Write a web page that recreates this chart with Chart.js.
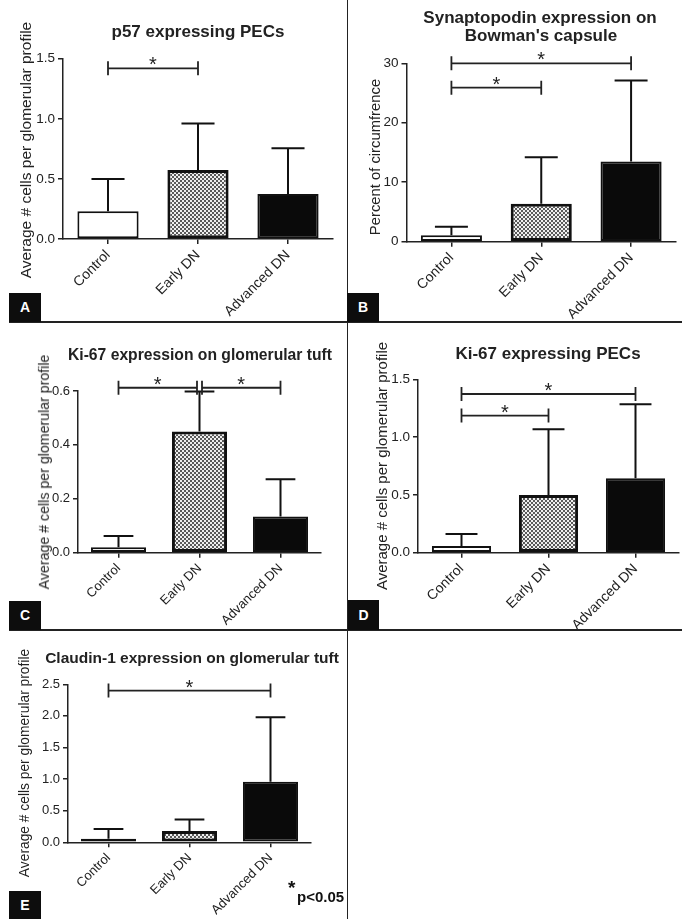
<!DOCTYPE html>
<html>
<head>
<meta charset="utf-8">
<script src="https://cdn.jsdelivr.net/npm/chart.js@4.4.1/dist/chart.umd.min.js"></script>
<style>
  body { margin: 0; background: #fff; font-family: "Liberation Sans", Arial, sans-serif; color: #222; }
  #fig { position: relative; width: 682px; height: 919px; overflow: hidden; }
  canvas { position: absolute; }
  .ttl { position: absolute; width: 340px; text-align: center; font-weight: bold; line-height: 1; white-space: nowrap; color: #222; }
  .ytl { position: absolute; white-space: nowrap; line-height: 1; color: #222; transform: translate(-50%, -50%) rotate(-90deg); }
  .tag { position: absolute; background: #0d0d0d; color: #fff; font-weight: bold; font-size: 14px; text-align: center; }
  .rule { position: absolute; background: #222; }
</style>
</head>
<body>
<div id="fig">
  <div class="rule" style="left:9px;top:321px;width:673px;height:1.5px"></div>
  <div class="rule" style="left:9px;top:629px;width:673px;height:1.5px"></div>
  <div class="rule" style="left:346.5px;top:0;width:1.5px;height:919px"></div>

  <canvas id="cA" width="345" height="322" style="left:0;top:0"></canvas>
  <canvas id="cB" width="335" height="322" style="left:347px;top:0"></canvas>
  <canvas id="cC" width="345" height="308" style="left:0;top:322px"></canvas>
  <canvas id="cD" width="335" height="308" style="left:347px;top:322px"></canvas>
  <canvas id="cE" width="345" height="289" style="left:0;top:630px"></canvas>

  <div class="ttl" style="left:28px;top:23px;font-size:17px">p57 expressing PECs</div>
  <div class="ttl" style="left:370px;top:9px;font-size:17px">Synaptopodin expression on</div>
  <div class="ttl" style="left:371px;top:27px;font-size:17px">Bowman's capsule</div>
  <div class="ttl" style="left:30px;top:347px;font-size:15.7px">Ki-67 expression on glomerular tuft</div>
  <div class="ttl" style="left:378px;top:345px;font-size:17px">Ki-67 expressing PECs</div>
  <div class="ttl" style="left:22px;top:650px;font-size:15.5px">Claudin-1 expression on glomerular tuft</div>

  <div class="ytl" style="left:26px;top:150px;font-size:15.5px">Average # cells per glomerular profile</div>
  <div class="ytl" style="left:375px;top:157px;font-size:14.8px">Percent of circumfrence</div>
  <div class="ytl" style="left:44px;top:472px;font-size:14.2px">Average # cells per glomerular profile</div>
  <div class="ytl" style="left:381px;top:466px;font-size:15px">Average # cells per glomerular profile</div>
  <div class="ytl" style="left:25px;top:763px;font-size:13.8px">Average # cells per glomerular profile</div>

  <div class="tag" style="left:9px;top:293px;width:32px;height:29px;line-height:29px">A</div>
  <div class="tag" style="left:347px;top:293px;width:32px;height:29px;line-height:29px">B</div>
  <div class="tag" style="left:9px;top:601px;width:32px;height:29px;line-height:29px">C</div>
  <div class="tag" style="left:348px;top:600px;width:31px;height:30px;line-height:30px">D</div>
  <div class="tag" style="left:9px;top:891px;width:32px;height:28px;line-height:28px">E</div>

  <div style="position:absolute;left:288px;top:878px;font-size:19px;font-weight:bold;color:#111;line-height:1">*</div>
  <div style="position:absolute;left:297px;top:889px;font-size:15px;font-weight:bold;color:#111;line-height:1">p&lt;0.05</div>
</div>

<script>
const FONT = '"Liberation Sans", Arial, sans-serif';
const groups = ['Control', 'Early DN', 'Advanced DN'];

// A - p57 expressing PECs
const p57Mean = [0.23, 0.575, 0.375];
const p57Sd = [0.27, 0.385, 0.38];
const p57Ticks = [0, 0.5, 1.0, 1.5];
const p57Sig = [[0, 1, 1.42]];

// B - synaptopodin on Bowman's capsule
const synMean = [1.1, 6.4, 13.5];
const synSd = [1.4, 7.8, 13.6];
const synTicks = [0, 10, 20, 30];
const synSig = [[0, 1, 25.9], [0, 2, 30]];

// C - Ki-67 on glomerular tuft
const kiTuftMean = [0.02, 0.45, 0.134];
const kiTuftSd = [0.042, 0.148, 0.139];
const kiTuftTicks = [0, 0.2, 0.4, 0.6];
const kiTuftSig = [[0, 1, 0.612], [1, 2, 0.612]];

// D - Ki-67 expressing PECs
const kiPecMean = [0.058, 0.5, 0.643];
const kiPecSd = [0.104, 0.567, 0.641];
const kiPecTicks = [0, 0.5, 1.0, 1.5];
const kiPecSig = [[0, 1, 1.186], [0, 2, 1.373]];

// E - Claudin-1 on glomerular tuft
const cldMean = [0.058, 0.18, 0.96];
const cldSd = [0.152, 0.18, 1.02];
const cldTicks = [0, 0.5, 1.0, 1.5, 2.0, 2.5];
const cldSig = [[0, 2, 2.4]];

// checker fill for the Early DN bars
const pc = document.createElement('canvas');
pc.width = 4; pc.height = 4;
const g = pc.getContext('2d');
g.fillStyle = '#efefef'; g.fillRect(0, 0, 4, 4);
g.fillStyle = '#5a5a5a'; g.fillRect(0, 0, 2, 2); g.fillRect(2, 2, 2, 2);
const checker = g.createPattern(pc, 'repeat');

// error whiskers (upper only) + significance brackets
const extras = {
  id: 'extras',
  afterDatasetsDraw(chart, args, opts) {
    const ctx = chart.ctx, y = chart.scales.y;
    const meta = chart.getDatasetMeta(0);
    const mean = chart.data.datasets[0].data;
    ctx.save();
    ctx.strokeStyle = '#111';
    ctx.lineWidth = 2;
    opts.sd.forEach((s, i) => {
      const bar = meta.data[i];
      const half = bar.width * 0.27;
      const yb = y.getPixelForValue(mean[i]);
      const yt = y.getPixelForValue(mean[i] + s);
      ctx.beginPath();
      ctx.moveTo(bar.x, yb); ctx.lineTo(bar.x, yt);
      ctx.moveTo(bar.x - half, yt); ctx.lineTo(bar.x + half, yt);
      ctx.stroke();
    });
    ctx.strokeStyle = '#222';
    ctx.fillStyle = '#222';
    ctx.lineWidth = 1.8;
    ctx.font = '20px ' + FONT;
    ctx.textAlign = 'center';
    ctx.textBaseline = 'alphabetic';
    opts.sig.forEach(s => {
      const [a, b, v] = s;
      const inL = opts.sig.some(o => o !== s && o[1] === a && o[2] === v) ? 2.5 : 0;
      const inR = opts.sig.some(o => o !== s && o[0] === b && o[2] === v) ? 2.5 : 0;
      const xa = meta.data[a].x + inL, xb = meta.data[b].x - inR;
      const yv = y.getPixelForValue(v);
      ctx.beginPath();
      ctx.moveTo(xa, yv - 7); ctx.lineTo(xa, yv + 7);
      ctx.moveTo(xb, yv - 7); ctx.lineTo(xb, yv + 7);
      ctx.moveTo(xa, yv); ctx.lineTo(xb, yv);
      ctx.stroke();
      ctx.fillText('*', (xa + xb) / 2, yv + 3);
    });
    ctx.restore();
  }
};

const panels = [
  { id: 'cA', L: 0, T: 0, W: 345, H: 322, x0: 63, x1: 333, y0: 58.7, y1: 239,
    mean: p57Mean, sd: p57Sd, ticks: p57Ticks, dec: 1, sig: p57Sig, fs: 13.5, xs: 14 },
  { id: 'cB', L: 347, T: 0, W: 335, H: 322, x0: 406.5, x1: 676, y0: 63.3, y1: 241.7,
    mean: synMean, sd: synSd, ticks: synTicks, dec: 0, sig: synSig, fs: 13.5, xs: 14 },
  { id: 'cC', L: 0, T: 322, W: 345, H: 308, x0: 78, x1: 321, y0: 391, y1: 552.7,
    mean: kiTuftMean, sd: kiTuftSd, ticks: kiTuftTicks, dec: 1, sig: kiTuftSig, fs: 13, xs: 13 },
  { id: 'cD', L: 347, T: 322, W: 335, H: 308, x0: 418, x1: 679, y0: 379.3, y1: 552.7,
    mean: kiPecMean, sd: kiPecSd, ticks: kiPecTicks, dec: 1, sig: kiPecSig, fs: 13.5, xs: 14 },
  { id: 'cE', L: 0, T: 630, W: 345, H: 289, x0: 68, x1: 311, y0: 684.3, y1: 842.3,
    mean: cldMean, sd: cldSd, ticks: cldTicks, dec: 1, sig: cldSig, fs: 13, xs: 13 }
];

panels.forEach(p => {
  new Chart(document.getElementById(p.id), {
    type: 'bar',
    data: {
      labels: groups,
      datasets: [{
        data: p.mean,
        backgroundColor: ['#ffffff', checker, '#0a0a0a'],
        borderColor: '#111',
        borderWidth: [2, 3, 2],
        borderSkipped: false,
        barPercentage: 0.68,
        categoryPercentage: 1
      }]
    },
    options: {
      responsive: false,
      animation: false,
      devicePixelRatio: 1,
      layout: {
        autoPadding: false,
        padding: { left: 0, right: p.L + p.W - p.x1, top: p.y0 - p.T, bottom: 0 }
      },
      plugins: {
        legend: { display: false },
        tooltip: { enabled: false },
        extras: { sd: p.sd, sig: p.sig }
      },
      scales: {
        x: {
          offset: true,
          grid: { offset: false, drawOnChartArea: false, color: '#222', lineWidth: 1.5, tickLength: 5 },
          border: { color: '#222', width: 1.5 },
          ticks: { color: '#222', font: { size: p.xs, family: FONT }, minRotation: 45, maxRotation: 45, autoSkip: false, padding: 3 },
          afterFit: s => { s.height = p.T + p.H - p.y1; s.paddingLeft = 0; s.paddingRight = 0; }
        },
        y: {
          min: 0,
          max: p.ticks[p.ticks.length - 1],
          afterBuildTicks: s => { s.ticks = p.ticks.map(v => ({ value: v })); },
          grid: { drawOnChartArea: false, color: '#222', lineWidth: 1.5, tickLength: 5 },
          border: { color: '#222', width: 1.5 },
          ticks: { color: '#222', font: { size: p.fs, family: FONT }, padding: 3, callback: v => v.toFixed(p.dec) },
          afterFit: s => { s.width = p.x0 - p.L; }
        }
      }
    },
    plugins: [extras]
  });
});
</script>
</body>
</html>
